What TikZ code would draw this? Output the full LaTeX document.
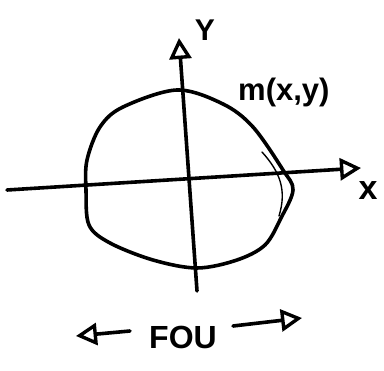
\documentclass[tikz,border=0pt]{standalone}
\usepackage{fontspec}
\setmainfont{Liberation Sans}
\usetikzlibrary{arrows.meta}
\begin{document}
\begin{tikzpicture}[x=1pt,y=-1pt,
  pen/.style={line width=3.6pt,line cap=round,line join=round},
  thinpen/.style={line width=1.4pt,line cap=round},
  hand/.style={font=\bfseries\fontsize{24}{26}\selectfont, inner sep=0pt},
  arr/.style={-{Triangle[open,length=21pt,width=22pt,line width=3.4pt]}}]
\useasboundingbox (0,0) rectangle (384,371);
% axes
\coordinate (xs) at (7,190);
\coordinate (xe) at (361,168);
\coordinate (ys) at (197,291);
\coordinate (ye) at (179,38);
\draw[pen,arr] (xs) -- (xe);
\draw[pen,arr] (ys) -- (ye);
\node[hand,font=\bfseries\fontsize{34}{36}\selectfont] (xl) at (368,191) {x};
\node[hand,font=\bfseries\fontsize{30}{32}\selectfont] (yl) at (205,30) {Y};
% closed curve
\draw[pen] plot[smooth cycle,tension=0.55] coordinates {
  (177,90) (223,104) (253,127) (283,170) (293,190) (281,218)
  (265,245) (237,260) (197,268) (153,260) (110,243) (89,225)
  (86,190) (87,160) (100,127) (123,107)};
\draw[thinpen] (262,152) .. controls (280,172) and (287,190) .. (279,216);
\node[hand,anchor=west,font=\bfseries\fontsize{31}{33}\selectfont] (m) at (238,92) {m(x,y)};
% bottom label
\node[hand,font=\bfseries\fontsize{32}{34}\selectfont] (fou) at (183,337) {FOU};
\coordinate (la) at (130,331);
\coordinate (lb) at (76,336);
\draw[pen,arr] (la) -- (lb);
\coordinate (ra) at (233,326);
\coordinate (rb) at (302,318);
\draw[pen,arr] (ra) -- (rb);
\end{tikzpicture}
\end{document}
